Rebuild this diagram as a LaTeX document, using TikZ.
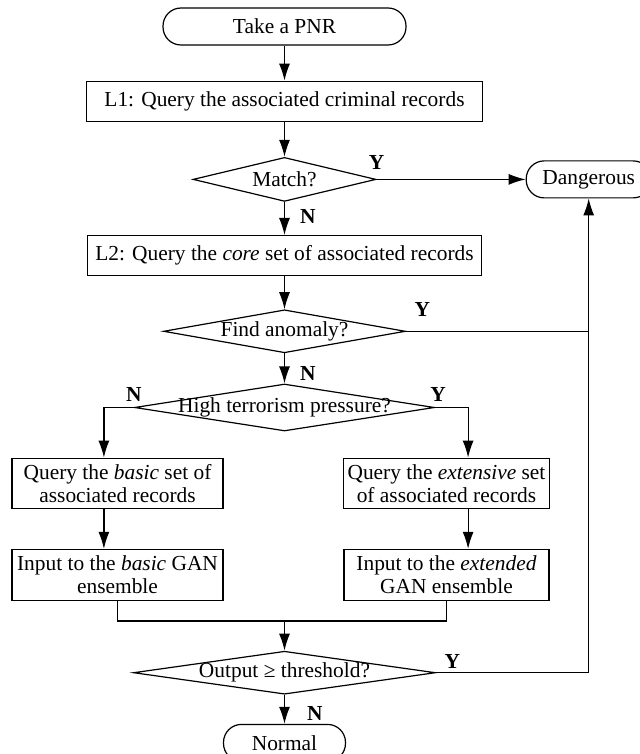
\documentclass[tikz,border=0pt]{standalone}
\usepackage{fontspec}
\setmainfont{Liberation Serif}
\usetikzlibrary{positioning,shapes.geometric,arrows.meta}

\tikzset{
  term/.style={draw,rounded corners=9pt,minimum height=18.5pt,inner sep=2pt},
  proc/.style={draw,align=center,inner sep=2pt},
  decision/.style={draw,diamond,inner sep=0pt},
  yn/.style={inner sep=1pt,font=\fontsize{10.7pt}{11.5pt}\selectfont\bfseries},
}

\begin{document}
\begin{tikzpicture}[>={Latex[length=8.5pt,width=5.5pt]},semithick,node distance=17.5pt,
    font=\fontsize{10.7pt}{11.5pt}\selectfont]
        \useasboundingbox (0,0) rectangle (319.5pt,-377pt);
        \node[term,minimum width=121.5pt] (start) at (142.25pt,-13.25pt) {Take a PNR};
        \node[proc,minimum width=198pt,minimum height=20pt,below=of start] (l1) {L1: Query the associated criminal records};
        \node[decision,minimum width=91.5pt,minimum height=22pt,below=of l1,label=center:Match?] (match) {};
        \node[term,minimum width=62.5pt,right=74.5pt of match] (danger) {Dangerous};
        \node[proc,minimum width=197pt,minimum height=20pt,below=16.5pt of match] (l2) {L2: Query the \textit{core} set of associated records};
        \node[decision,minimum width=121pt,minimum height=21.5pt,below=16.5pt of l2,label=center:Find anomaly?] (anom) {};
        \node[decision,minimum width=150pt,minimum height=23.5pt,below=15pt of anom,label=center:High terrorism pressure?] (press) {};
        \node[proc,minimum width=105.5pt,minimum height=25pt,below=13pt of press,xshift=-83.5pt] (basic) {Query the \textit{basic} set of\\associated records};
        \node[proc,minimum width=102.5pt,minimum height=25pt,below=13pt of press,xshift=81pt] (ext) {Query the \textit{extensive} set\\of associated records};
        \node[proc,minimum width=105.5pt,minimum height=25.5pt,below=20pt of basic] (ganb) {Input to the \textit{basic} GAN\\ensemble};
        \node[proc,minimum width=102.5pt,minimum height=25.5pt,below=20pt of ext] (gane) {Input to the \textit{extended}\\GAN ensemble};
        \node[decision,minimum width=151pt,minimum height=21.5pt,below=109.5pt of press,label=center:Output ≥ threshold?] (out) {};
        \node[term,minimum width=61pt,below=14.5pt of out] (normal) {Normal};
        % Y / N labels
        \node[yn,above=3.5pt of match.east] (ym) {Y};
        \node[yn,below right=2.5pt and 6.5pt of match.south] (nm) {N};
        \node[yn,above right=6pt and 3pt of anom.east] (ya) {Y};
        \node[yn,below right=5pt and 6.5pt of anom.south] (na) {N};
        \node[yn,above=1.5pt of press.west] (np) {N};
        \node[yn,above=1.5pt of press.east,xshift=1.5pt] (yp) {Y};
        \node[yn,above right=1pt and 3pt of out.east] (yo) {Y};
        \node[yn,below right=4.5pt and 10pt of out.south] (no) {N};
        % main line
        \draw[->] (start) -- (l1);
        \draw[->] (l1) -- (match);
        \draw[->] (match) -- (l2);
        \draw[->] (l2) -- (anom);
        \draw[->] (anom) -- (press);
        \draw[->] (match) -- (danger);
        \draw (anom.east) -- (anom.east -| danger.south);
        \draw[->] (out.east) -| (danger.south);
        % two branches
        \draw[->] (press.west) -- ++(-15pt,0) coordinate (nleft) -- (nleft |- basic.north);
        \draw[->] (press.east) -- ++(16.5pt,0) coordinate (yright) -- (yright |- ext.north);
        \draw[->] (nleft |- basic.south) -- (nleft |- ganb.north);
        \draw[->] (yright |- ext.south) -- (yright |- gane.north);
        \draw (ganb.south) -- ++(0,-10pt) coordinate (join) -| (gane.south);
        \draw[->] (join -| out.north) -- (out.north);
        \draw[->] (out) -- (normal);
    \end{tikzpicture}
\end{document}
